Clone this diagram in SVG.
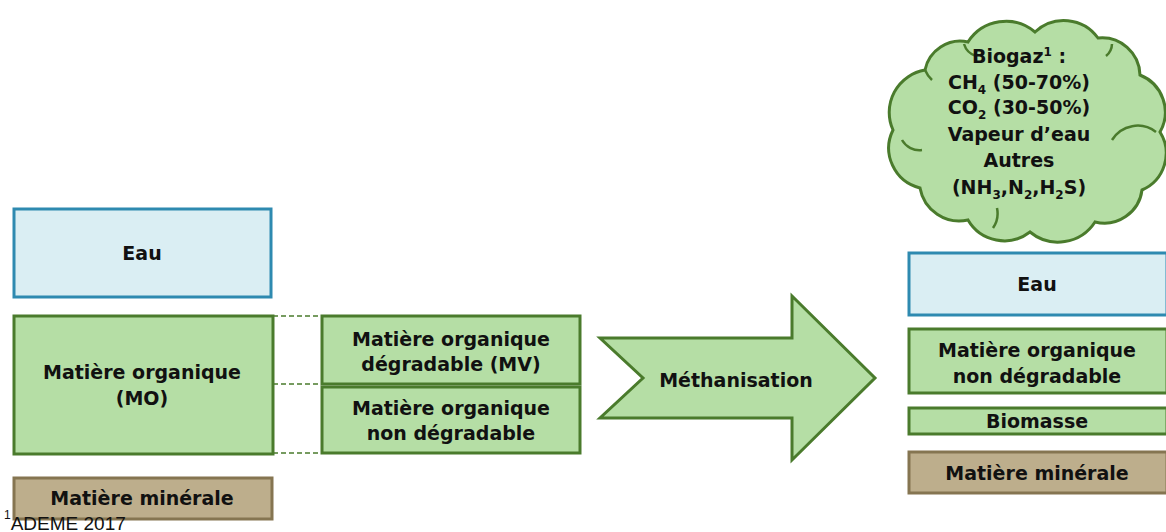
<svg xmlns="http://www.w3.org/2000/svg" width="1166" height="532" viewBox="0 0 1166 532">
<style>
.t{font-family:"DejaVu Sans","Liberation Sans",sans-serif;font-weight:bold;font-size:19px;fill:#111;text-anchor:middle}
.eau{fill:#daeef3;stroke:#2e8ab0;stroke-width:3}
.mo{fill:#b5dea5;stroke:#4a7b2c;stroke-width:3}
.min{fill:#bdae8c;stroke:#857551;stroke-width:3}
.dash{stroke:#4a7b2c;stroke-width:1.5;stroke-dasharray:5 3;fill:none}
.sub{font-size:12px}
</style>
<rect width="1166" height="532" fill="#fff"/>
<g id="connectors">
<line class="dash" x1="273" y1="316" x2="322" y2="316"/>
<line class="dash" x1="273" y1="384" x2="322" y2="384"/>
<line class="dash" x1="273" y1="453" x2="322" y2="453"/>
</g>
<g id="eau-left"><rect class="eau" x="14" y="209" width="257" height="88"/><text class="t" x="142" y="260">Eau</text></g>
<g id="mo-left"><rect class="mo" x="14" y="316" width="259" height="138"/><text class="t" x="142" y="379">Matière organique</text><text class="t" x="142" y="405">(MO)</text></g>
<g id="min-left"><rect class="min" x="14" y="478" width="258" height="41"/><text class="t" x="142" y="505">Matière minérale</text></g>
<g id="mv"><rect class="mo" x="322" y="316" width="258" height="68"/><text class="t" x="451" y="346">Matière organique</text><text class="t" x="451" y="371">dégradable (MV)</text></g>
<g id="mnd-left"><rect class="mo" x="322" y="387" width="258" height="66"/><text class="t" x="451" y="415">Matière organique</text><text class="t" x="451" y="440">non dégradable</text></g>
<g id="arrow"><path class="mo" stroke-linejoin="miter" d="M600 338 L792 338 L792 296 L875 378 L792 460 L792 418 L600 418 L643 378 Z"/><text class="t" x="736" y="387">Méthanisation</text></g>
<g id="biogaz">
<path class="mo" d="M925 70 A36 36 0 0 1 968 42 A45 45 0 0 1 1035 32 A42 42 0 0 1 1098 38 A38 38 0 0 1 1140 75 A40 40 0 0 1 1160 132 A40 40 0 0 1 1142 190 A38 38 0 0 1 1095 222 A44 44 0 0 1 1030 232 A42 42 0 0 1 968 220 A40 40 0 0 1 920 188 A41 41 0 0 1 893 130 A43 43 0 0 1 925 70 Z"/>
<path d="M902 140 A20 20 0 0 0 922 150 M993 228 A26 26 0 0 0 997 208 M1112 140 A30 30 0 0 1 1156 132 M964 44 A18 18 0 0 0 976 56 M1112 44 A16 16 0 0 1 1106 56 M925 70 A30 30 0 0 0 932 80" fill="none" stroke="#4a7b2c" stroke-width="2.5"/>
<text class="t" x="1019" y="63">Biogaz<tspan class="sub" dy="-7">1</tspan><tspan dy="7"> :</tspan></text>
<text class="t" x="1019" y="89">CH<tspan class="sub" dy="5">4</tspan><tspan dy="-5"> (50-70%)</tspan></text>
<text class="t" x="1019" y="114">CO<tspan class="sub" dy="5">2</tspan><tspan dy="-5"> (30-50%)</tspan></text>
<text class="t" x="1019" y="141">Vapeur d’eau</text>
<text class="t" x="1019" y="167">Autres</text>
<text class="t" x="1019" y="194">(NH<tspan class="sub" dy="5">3</tspan><tspan dy="-5">,N</tspan><tspan class="sub" dy="5">2</tspan><tspan dy="-5">,H</tspan><tspan class="sub" dy="5">2</tspan><tspan dy="-5">S)</tspan></text>
</g>
<g id="eau-right"><rect class="eau" x="909" y="253" width="258" height="62"/><text class="t" x="1037" y="291">Eau</text></g>
<g id="mnd-right"><rect class="mo" x="909" y="329" width="258" height="64"/><text class="t" x="1037" y="357">Matière organique</text><text class="t" x="1037" y="383">non dégradable</text></g>
<g id="biomasse"><rect class="mo" x="909" y="408" width="258" height="26"/><text class="t" x="1037" y="428">Biomasse</text></g>
<g id="min-right"><rect class="min" x="909" y="452" width="258" height="41"/><text class="t" x="1037" y="480">Matière minérale</text></g>
<g id="footnote"><text x="4" y="530" font-family="Liberation Sans, sans-serif" font-size="19" fill="#111"><tspan font-size="12" dy="-11">1</tspan><tspan dy="11">ADEME 2017</tspan></text></g>
</svg>
